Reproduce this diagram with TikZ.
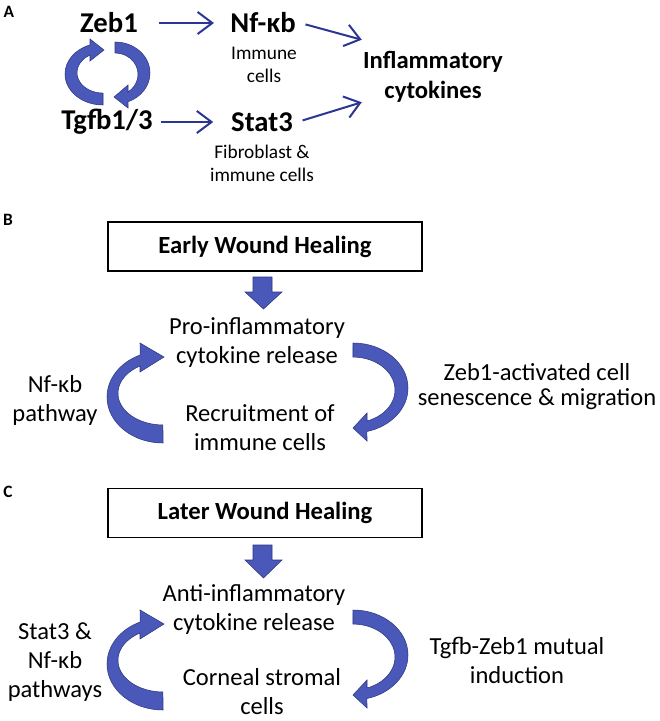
\documentclass[tikz,border=0pt]{standalone}
\usepackage{fontspec}
\setmainfont{Carlito}
\usetikzlibrary{arrows.meta}
\definecolor{navyline}{RGB}{43,54,148}
\definecolor{ribbonblue}{RGB}{74,88,186}
\definecolor{ribbonedge}{RGB}{44,54,128}
\tikzset{
  panel/.style={font=\fontsize{13}{15}\selectfont\bfseries},
  gene/.style={font=\fontsize{21.5}{26}\selectfont\bfseries},
  outcome/.style={align=center, font=\fontsize{18.5}{22.5}\selectfont\bfseries},
  cellnote/.style={align=center, font=\fontsize{14.5}{17.25}\selectfont},
  stagebox/.style={draw, line width=1.1pt, minimum width=235.5pt, minimum height=36.75pt, font=\fontsize{18.5}{22}\selectfont\bfseries},
  phase/.style={align=center, font=\fontsize{18.4}{21.75}\selectfont},
  thinarrow/.style={navyline, line width=1.5pt, -{Straight Barb[length=11pt,width=16.5pt]}},
  ribbon/.style={fill=ribbonblue, draw=ribbonedge, line width=0.4pt}
}
\begin{document}
\begin{tikzpicture}[x=0.75pt, y=-0.75pt]
\useasboundingbox (0,0) rectangle (660,721);

% panel A
\node[panel] (lblA) at (9,12) {A};
\node[gene] (zeb) at (109,23) {Zeb1};
\node[gene] (nfkb) at (263,23) {Nf-κb};
\node[gene] (tgfb) at (107,122) {Tgfb1/3};
\node[gene] (stat3) at (262,122) {Stat3};
\node[cellnote] (immune) at (264,65) {Immune\\cells};
\node[cellnote] (fibro) at (262,163) {Fibroblast \&\\immune cells};
\node[outcome] (infl) at (433,77) {Inflammatory\\cytokines};
\draw[thinarrow, shorten <=12.5pt, shorten >=8.8pt] (zeb) -- (nfkb);
\draw[thinarrow, shorten <=2.8pt, shorten >=10pt] (tgfb) -- (stat3);
\draw[thinarrow, shorten <=4pt] (nfkb.east) -- ([xshift=2.5pt,yshift=5.25pt]infl.north west);
\draw[thinarrow, shorten <=4pt] (stat3.east) -- ([xshift=2.5pt,yshift=3.75pt]infl.south west);
\fill[ribbon] (103,105) arc[start angle=90, end angle=250, x radius=38, y radius=31]
  -- (90,39) -- (104,50) -- (90,61) -- (90,55)
  arc[start angle=240, end angle=90, x radius=26, y radius=20.4] -- cycle;
\fill[ribbon] (115,42) arc[start angle=-90, end angle=68.2, x radius=35, y radius=31]
  -- (128,108) -- (114,97) -- (128,85) -- (128,92)
  arc[start angle=55.6, end angle=-90, x radius=23, y radius=21.4] -- cycle;

% panel B
\node[panel] (lblB) at (8,220) {B};
\node[stagebox] (early) at (265,246.5) {Early Wound Healing};
\node[phase] (pro) at (257,342.5) {Pro-inflammatory\\cytokine release};
\node[phase] (recruit) at (260,427.5) {Recruitment of\\immune cells};
\node[phase] (nfpath) at (55,400) {Nf-κb\\pathway};
\node[phase, font=\fontsize{18.4}{18.75}\selectfont] (zebsen) at (537,387) {Zeb1-activated cell\\senescence \& migration};
\fill[ribbon] (253,277) -- (272,277) -- (272,292) -- (282,292) -- (263.5,309) -- (245,292) -- (253,292) -- cycle;
\fill[ribbon] (163,443) arc[start angle=90, end angle=246, x radius=56, y radius=46]
  -- (140,343) -- (164,357) -- (140,372) -- (140,366)
  arc[start angle=239.3, end angle=90, x radius=45, y radius=31.7] -- cycle;
\fill[ribbon] (353,343) arc[start angle=-90, end angle=75.3, x radius=55, y radius=45]
  -- (367,441) -- (353,428) -- (367,413) -- (367,421)
  arc[start angle=70.5, end angle=-90, x radius=42, y radius=32.9] -- cycle;

% panel C
\node[panel] (lblC) at (8,492) {C};
\node[stagebox] (later) at (265,513) {Later Wound Healing};
\node[phase] (anti) at (254,609) {Anti-inflammatory\\cytokine release};
\node[phase, inner sep=1pt] (corneal) at (262,692) {Corneal stromal\\cells};
\node[phase] (statpath) at (55,662.5) {Stat3 \&\\Nf-κb\\pathways};
\node[phase] (mutual) at (517,660) {Tgfb-Zeb1 mutual\\induction};
\fill[ribbon] (253,545) -- (272,545) -- (272,560) -- (282,560) -- (263.5,578) -- (245,560) -- (253,560) -- cycle;
\fill[ribbon] (163,710) arc[start angle=90, end angle=246, x radius=56, y radius=46]
  -- (140,610) -- (164,624) -- (140,639) -- (140,633)
  arc[start angle=239.3, end angle=90, x radius=45, y radius=31.7] -- cycle;
\fill[ribbon] (353,610) arc[start angle=-90, end angle=75.3, x radius=55, y radius=45]
  -- (367,708) -- (353,695) -- (367,680) -- (367,688)
  arc[start angle=70.5, end angle=-90, x radius=42, y radius=32.9] -- cycle;
\end{tikzpicture}
\end{document}
